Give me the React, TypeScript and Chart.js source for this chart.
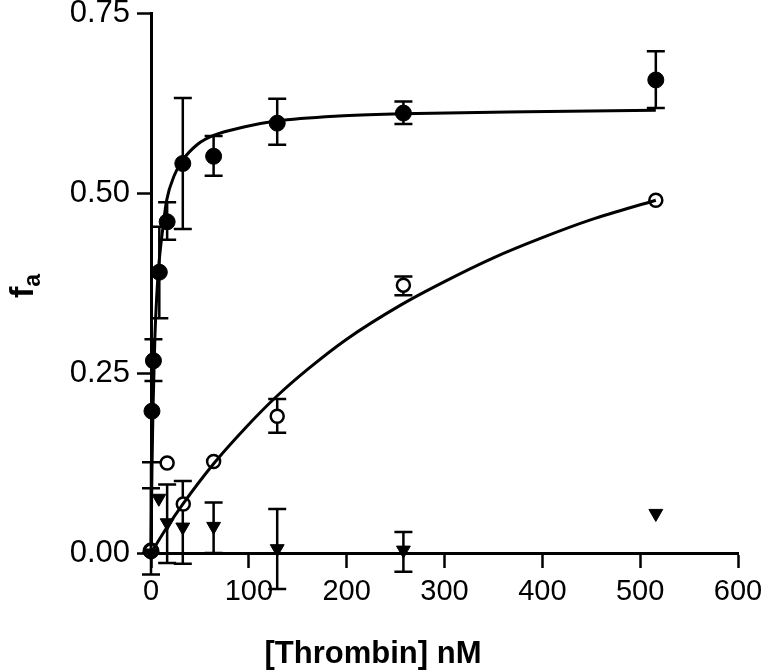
import { useEffect, useRef } from "react";
import { Chart, registerables } from "chart.js";

Chart.register(...registerables);

// Filled circles
const boundX = [0, 1, 2.5, 8.5, 16.5, 32.5, 64, 129, 258, 516];
const boundY = [0.003, 0.197, 0.267, 0.39, 0.46, 0.541, 0.551, 0.597, 0.611, 0.657];
const boundLo = [null, null, 0.239, 0.326, 0.435, 0.45, 0.524, 0.567, 0.596, 0.618];
const boundHi = [null, null, 0.297, 0.453, 0.487, 0.632, 0.579, 0.631, 0.627, 0.697];

// Open circles
const openX = [0, 16.5, 33, 64, 129, 258, 516];
const openY = [0.003, 0.125, 0.068, 0.127, 0.19, 0.372, 0.49];
const openLo = [0.0, null, null, null, 0.167, 0.358, null];
const openHi = [0.126, null, null, null, 0.214, 0.384, null];

// Down triangles
const triX = [0, 8, 16.5, 32.5, 64, 129, 258, 516];
const triY = [0.0, 0.076, 0.042, 0.036, 0.037, 0.006, 0.004, 0.055];
const triLo = [-0.03, null, -0.014, -0.015, 0.0, -0.05, -0.026, null];
const triHi = [0.09, null, 0.095, 0.1, 0.07, 0.061, 0.029, null];

// Fitted curves
const fitBoundX = [0, 1, 2, 4, 6, 8, 12, 16, 24, 32, 48, 64, 96, 128, 192, 256, 384, 516];
const fitBoundY = [0, 0.117, 0.198, 0.3, 0.36, 0.4, 0.45, 0.49, 0.525, 0.545, 0.568, 0.58, 0.592, 0.6, 0.607, 0.61, 0.613, 0.615];
const fitOpenX = [0, 16, 32, 64, 96, 128, 160, 200, 256, 300, 350, 400, 450, 516];
const fitOpenY = [0, 0.035, 0.067, 0.124, 0.173, 0.217, 0.255, 0.297, 0.345, 0.377, 0.41, 0.438, 0.463, 0.49];

const xTicks = [0, 100, 200, 300, 400, 500, 600];
const yTicks = [0, 0.25, 0.5, 0.75];

const xTitle = "[Thrombin] nM";
const yTitleMain = "f";
const yTitleSub = "a";

const FONT = '"Liberation Sans", Arial, Helvetica, sans-serif';

const pts = (xs: number[], ys: number[]) => xs.map((x, i) => ({ x, y: ys[i] }));

const errorBarPlugin = {
  id: "errorBars",
  beforeDatasetsDraw(chart: any) {
    const ctx = chart.ctx;
    const xs = chart.scales.x;
    const ys = chart.scales.y;
    chart.data.datasets.forEach((ds: any) => {
      if (!ds.errLo) return;
      ds.data.forEach((p: any, i: number) => {
        const lo = ds.errLo[i];
        const hi = ds.errHi[i];
        if (lo == null || hi == null) return;
        const px = xs.getPixelForValue(p.x);
        const pLo = ys.getPixelForValue(lo);
        const pHi = ys.getPixelForValue(hi);
        ctx.save();
        ctx.strokeStyle = "#000";
        ctx.lineWidth = 2.5;
        ctx.beginPath();
        ctx.moveTo(px, pLo);
        ctx.lineTo(px, pHi);
        ctx.moveTo(px - 9, pLo);
        ctx.lineTo(px + 9, pLo);
        ctx.moveTo(px - 9, pHi);
        ctx.lineTo(px + 9, pHi);
        ctx.stroke();
        ctx.restore();
      });
    });
  },
};

const titlePlugin = {
  id: "axisTitles",
  afterDraw(chart: any) {
    const ctx = chart.ctx;
    ctx.save();
    ctx.fillStyle = "#000";
    ctx.font = `bold 31px ${FONT}`;
    ctx.textAlign = "center";
    ctx.textBaseline = "alphabetic";
    ctx.fillText(xTitle, 373, 663);
    ctx.restore();

    ctx.save();
    ctx.fillStyle = "#000";
    ctx.translate(33, 286);
    ctx.rotate(-Math.PI / 2);
    ctx.textAlign = "left";
    ctx.textBaseline = "alphabetic";
    ctx.font = `bold 34px ${FONT}`;
    const wf = ctx.measureText(yTitleMain).width;
    ctx.font = `bold 23px ${FONT}`;
    const wa = ctx.measureText(yTitleSub).width;
    const start = -(wf + wa) / 2;
    ctx.font = `bold 34px ${FONT}`;
    ctx.fillText(yTitleMain, start, 0);
    ctx.font = `bold 23px ${FONT}`;
    ctx.fillText(yTitleSub, start + wf, 7);
    ctx.restore();
  },
};

export default function App() {
  const ref = useRef<HTMLCanvasElement | null>(null);

  useEffect(() => {
    document.body.style.margin = "0";
    const canvas = ref.current;
    if (!canvas) return;

    const chart = new Chart(canvas, {
      type: "scatter",
      data: {
        datasets: [
          {
            label: "fitBound",
            data: pts(fitBoundX, fitBoundY),
            showLine: true,
            borderColor: "#000",
            borderWidth: 3,
            pointRadius: 0,
            cubicInterpolationMode: "monotone",
            clip: false,
          } as any,
          {
            label: "fitOpen",
            data: pts(fitOpenX, fitOpenY),
            showLine: true,
            borderColor: "#000",
            borderWidth: 3,
            pointRadius: 0,
            cubicInterpolationMode: "monotone",
            clip: false,
          } as any,
          {
            label: "triangles",
            data: pts(triX, triY),
            errLo: triLo,
            errHi: triHi,
            pointStyle: "triangle",
            rotation: 180,
            pointRadius: 8,
            backgroundColor: "#000",
            borderColor: "#000",
            borderWidth: 1,
            clip: false,
          } as any,
          {
            label: "open",
            data: pts(openX, openY),
            errLo: openLo,
            errHi: openHi,
            pointStyle: "circle",
            pointRadius: 6.5,
            backgroundColor: "#fff",
            borderColor: "#000",
            borderWidth: 2.5,
            clip: false,
          } as any,
          {
            label: "bound",
            data: pts(boundX, boundY),
            errLo: boundLo,
            errHi: boundHi,
            pointStyle: "circle",
            pointRadius: 8,
            backgroundColor: "#000",
            borderColor: "#000",
            borderWidth: 1,
            clip: false,
          } as any,
        ],
      },
      options: {
        responsive: false,
        animation: false,
        layout: { padding: { left: 0, right: 26, top: 13, bottom: 0 } },
        plugins: {
          legend: { display: false },
          tooltip: { enabled: false },
          title: { display: false },
        },
        scales: {
          x: {
            type: "linear",
            min: 0,
            max: 600,
            afterBuildTicks: (s: any) => {
              s.ticks = xTicks.map((v) => ({ value: v }));
            },
            afterFit: (s: any) => {
              s.height = 119;
              s.paddingLeft = 0;
              s.paddingRight = 0;
              s.paddingTop = 0;
              s.paddingBottom = 0;
            },
            ticks: {
              font: { family: FONT, size: 29 },
              color: "#000",
              padding: 7,
              maxRotation: 0,
              autoSkip: false,
            },
            grid: {
              drawOnChartArea: false,
              drawTicks: true,
              tickLength: 15,
              tickWidth: 2.5,
              tickColor: "#000",
            },
            border: { display: true, color: "#000", width: 3 },
          },
          y: {
            type: "linear",
            min: 0,
            max: 0.75,
            afterBuildTicks: (s: any) => {
              s.ticks = yTicks.map((v) => ({ value: v }));
            },
            afterFit: (s: any) => {
              s.width = 151;
              s.paddingLeft = 0;
              s.paddingRight = 0;
              s.paddingTop = 0;
              s.paddingBottom = 0;
            },
            ticks: {
              font: { family: FONT, size: 31 },
              color: "#000",
              padding: 7,
              autoSkip: false,
              callback: (v: any) => Number(v).toFixed(2),
            },
            grid: {
              drawOnChartArea: false,
              drawTicks: true,
              tickLength: 14,
              tickWidth: 2.5,
              tickColor: "#000",
            },
            border: { display: true, color: "#000", width: 3 },
          },
        },
      } as any,
      plugins: [errorBarPlugin, titlePlugin],
    });

    return () => chart.destroy();
  }, []);

  return (
    <div style={{ width: 764, height: 672, background: "#fff" }}>
      <canvas ref={ref} width={764} height={672} style={{ display: "block" }} />
    </div>
  );
}
